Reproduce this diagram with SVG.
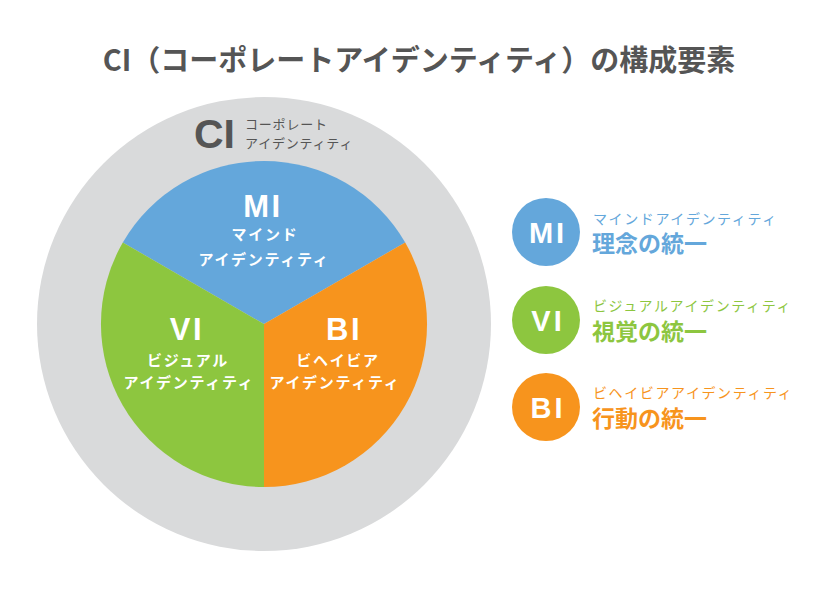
<svg xmlns="http://www.w3.org/2000/svg" width="840" height="594" viewBox="0 0 840 594">
<style>
.jp{font-family:"Noto Sans CJK JP","Noto Sans",sans-serif}
.lat{font-family:"Liberation Sans","Noto Sans",sans-serif;font-weight:700}
.ci{font-family:"Liberation Sans","Noto Sans",sans-serif;font-weight:700}
.w{fill:#ffffff}
.g{fill:#555555}
.blue{fill:#64a7db}
.green{fill:#8dc63f}
.orange{fill:#f7941d}
.sub{font-size:15px;font-weight:700;letter-spacing:1.7px}
.big{font-size:31px;letter-spacing:2.5px}
.leg1{font-size:14px;letter-spacing:1.6px}
.leg2{font-size:23px;font-weight:700}
.legl{font-size:29px;letter-spacing:3px}
.cis{font-size:13px;letter-spacing:0.8px}
</style>
<rect width="840" height="594" fill="#ffffff"/>
<text id="title" class="jp g" x="419" y="71" font-size="29" font-weight="700" text-anchor="middle">CI（コーポレートアイデンティティ）の構成要素</text>
<g id="ci">
<circle cx="264" cy="324" r="227" fill="#d9dadb"/>
<text class="ci g" x="194" y="148" font-size="41">CI</text>
<text class="jp g cis" x="245" y="129">コーポレート</text>
<text class="jp g cis" x="245" y="148">アイデンティティ</text>
</g>
<g id="mi">
<path class="blue" d="M264,324 L122.8,242.5 A163,163 0 0 1 405.2,242.5 Z"/>
<text class="lat w big" x="263" y="217" text-anchor="middle">MI</text>
<text class="jp w sub" x="265" y="240" text-anchor="middle">マインド</text>
<text class="jp w sub" x="264" y="265" text-anchor="middle">アイデンティティ</text>
</g>
<g id="vi">
<path class="green" d="M264,324 L264,487 A163,163 0 0 1 122.8,242.5 Z"/>
<text class="lat w big" x="187" y="340" text-anchor="middle">VI</text>
<text class="jp w sub" x="188" y="366" text-anchor="middle">ビジュアル</text>
<text class="jp w sub" x="189" y="388" text-anchor="middle">アイデンティティ</text>
</g>
<g id="bi">
<path class="orange" d="M264,324 L405.2,242.5 A163,163 0 0 1 264,487 Z"/>
<text class="lat w big" x="344" y="340" text-anchor="middle">BI</text>
<text class="jp w sub" x="338" y="366" text-anchor="middle">ビヘイビア</text>
<text class="jp w sub" x="335" y="388" text-anchor="middle">アイデンティティ</text>
</g>
<g id="leg-mi">
<circle class="blue" cx="546" cy="232" r="34"/>
<text class="lat w legl" x="548" y="242.5" text-anchor="middle">MI</text>
<text class="jp blue leg1" x="593" y="224">マインドアイデンティティ</text>
<text class="jp blue leg2" x="592" y="252">理念の統一</text>
</g>
<g id="leg-vi">
<circle class="green" cx="546" cy="320" r="34"/>
<text class="lat w legl" x="548" y="330.5" text-anchor="middle">VI</text>
<text class="jp green leg1" x="593" y="311">ビジュアルアイデンティティ</text>
<text class="jp green leg2" x="592" y="340">視覚の統一</text>
</g>
<g id="leg-bi">
<circle class="orange" cx="546" cy="407" r="34"/>
<text class="lat w legl" x="548" y="417.5" text-anchor="middle">BI</text>
<text class="jp orange leg1" x="593" y="398">ビヘイビアアイデンティティ</text>
<text class="jp orange leg2" x="592" y="427">行動の統一</text>
</g>
<g id="connectors"></g>
</svg>
